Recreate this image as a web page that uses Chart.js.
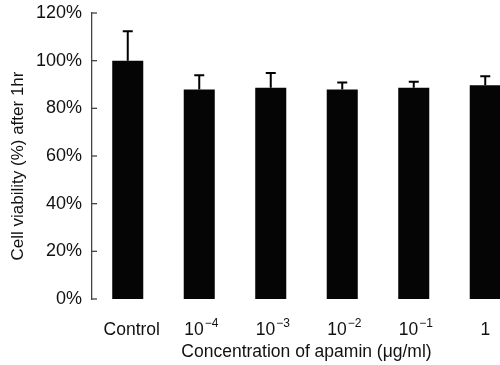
<!DOCTYPE html>
<html>
<head>
<meta charset="utf-8">
<script src="https://cdn.jsdelivr.net/npm/chart.js"></script>
<style>
  html, body { margin: 0; padding: 0; background: #fff; overflow: hidden; width: 500px; height: 365px; }
  canvas { display: block; }
</style>
</head>
<body>
<canvas id="viabilityChart" width="521" height="365"></canvas>
<script>
// values
const labels = ['Control', '10^-4', '10^-3', '10^-2', '10^-1', '1'];
const viability = [100.0, 87.9, 88.6, 87.9, 88.6, 89.7];
const errUp = [12.3, 6.0, 6.2, 2.9, 2.6, 3.8];
const yTicks = [0, 20, 40, 60, 80, 100, 120];
const yTitle = 'Cell viability (%) after 1hr';

const FONT = "'Liberation Sans', Arial, Helvetica, sans-serif";
const INK = '#111';

// upper-only error bars with a cap
const errorBars = {
    id: 'errorBars',
    afterDatasetsDraw(chart) {
        const { ctx, scales: { y } } = chart;
        const meta = chart.getDatasetMeta(0);
        ctx.save();
        ctx.strokeStyle = '#000';
        ctx.lineWidth = 2;
        meta.data.forEach((bar, i) => {
            const top = y.getPixelForValue(viability[i] + errUp[i]);
            ctx.beginPath();
            ctx.moveTo(bar.x, bar.y);
            ctx.lineTo(bar.x, top);
            ctx.moveTo(bar.x - 5, top);
            ctx.lineTo(bar.x + 5, top);
            ctx.stroke();
        });
        ctx.restore();
    }
};

// inward tick marks, rotated y title, category labels with superscripts
const axisExtras = {
    id: 'axisExtras',
    afterDraw(chart) {
        const { ctx, chartArea, scales: { x, y } } = chart;
        ctx.save();
        ctx.strokeStyle = '#444';
        ctx.lineWidth = 1.3;
        y.ticks.forEach(t => {
            const py = y.getPixelForValue(t.value);
            ctx.beginPath();
            ctx.moveTo(chartArea.left, py);
            ctx.lineTo(chartArea.left + 5, py);
            ctx.stroke();
        });

        ctx.fillStyle = INK;
        ctx.save();
        ctx.translate(18, 166);
        ctx.rotate(-Math.PI / 2);
        ctx.font = '17px ' + FONT;
        ctx.textAlign = 'center';
        ctx.textBaseline = 'middle';
        ctx.fillText(yTitle, 0, 0);
        ctx.restore();

        ctx.textBaseline = 'alphabetic';
        ctx.textAlign = 'left';
        const baseY = 335;
        labels.forEach((lab, i) => {
            const cx = x.getPixelForTick(i);
            const parts = lab.split('^');
            ctx.font = '17.5px ' + FONT;
            const w0 = ctx.measureText(parts[0]).width;
            let w1 = 0, sup = '';
            if (parts[1]) {
                sup = parts[1].replace('-', '\u2212');
                ctx.font = '12px ' + FONT;
                w1 = ctx.measureText(sup).width + 1;
            }
            const start = cx - (w0 + w1) / 2 + (w1 ? 2 : 0) + (i === 0 ? 4 : 0);
            ctx.font = '17.5px ' + FONT;
            ctx.fillText(parts[0], start, baseY);
            if (sup) {
                ctx.font = '12px ' + FONT;
                ctx.fillText(sup, start + w0 + 1, baseY - 8);
            }
        });
        ctx.restore();
    }
};

new Chart(document.getElementById('viabilityChart'), {
    type: 'bar',
    data: {
        labels: labels,
        datasets: [{
            data: viability,
            backgroundColor: '#050505',
            borderWidth: 0,
            barPercentage: 0.434,
            categoryPercentage: 1.0
        }]
    },
    options: {
        responsive: false,
        devicePixelRatio: 1,
        animation: false,
        layout: { padding: { top: 13, right: 0, bottom: 0, left: 0 } },
        plugins: { legend: { display: false }, tooltip: { enabled: false } },
        scales: {
            x: {
                offset: true,
                grid: { display: false, drawTicks: false },
                border: { display: false },
                ticks: { display: false },
                title: {
                    display: true,
                    text: 'Concentration of apamin (\u03bcg/ml)',
                    color: INK,
                    font: { family: FONT, size: 17.5 },
                    padding: { top: 0, bottom: 2 }
                },
                afterFit: s => { s.height = 66; s.paddingLeft = 0; s.paddingRight = 0; }
            },
            y: {
                min: 0,
                max: 120,
                afterBuildTicks: s => { s.ticks = yTicks.map(v => ({ value: v })); },
                grid: { display: false, drawTicks: false },
                border: { display: true, color: '#444', width: 1.3 },
                ticks: {
                    padding: 10,
                    color: INK,
                    font: { family: FONT, size: 18 },
                    callback: v => v + '%'
                },
                afterFit: s => { s.width = 92; s.paddingTop = 0; s.paddingBottom = 0; }
            }
        }
    },
    plugins: [errorBars, axisExtras]
});
</script>
</body>
</html>
